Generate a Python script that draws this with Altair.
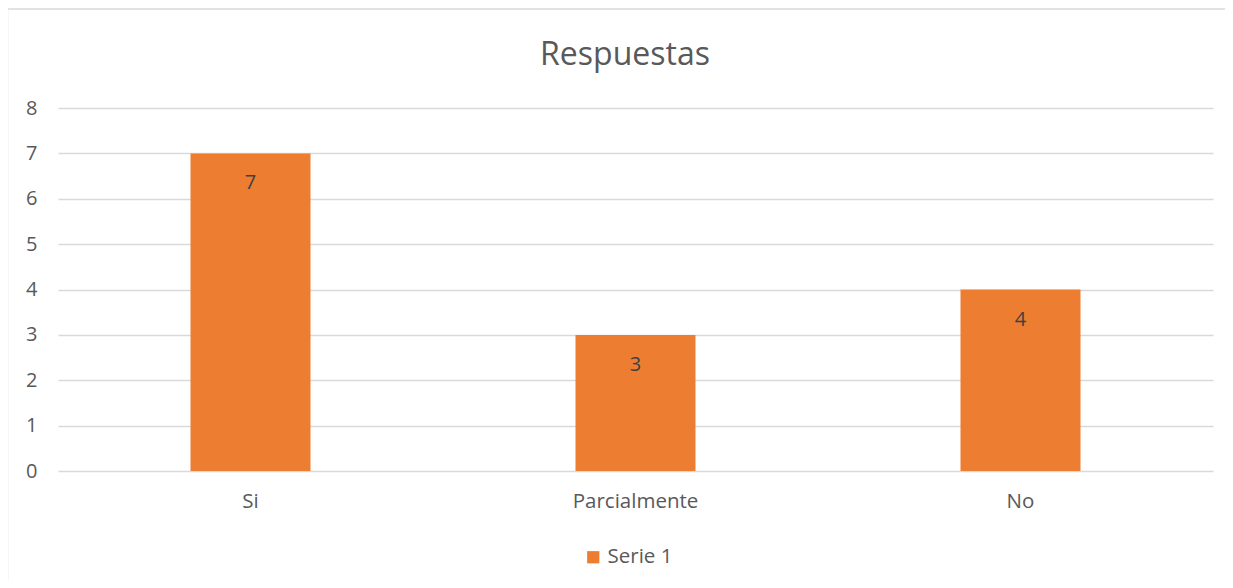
import altair as alt
import pandas as pd

categories = ["Si", "Parcialmente", "No"]
values = [7, 3, 4]
series = ["Serie 1"] * 3
chart_title = ["Respuestas"]

df = pd.DataFrame({"cat": categories, "val": values, "serie": series})

FONT = "Open Sans"
ORANGE = "#ED7D31"
TXT = "#595959"

W, H = 1155, 363

base = alt.Chart(df)

x_enc = alt.X("cat:N", sort=categories, title=None,
              scale=alt.Scale(paddingInner=0, paddingOuter=0),
              axis=alt.Axis(labelAngle=0, ticks=False, domain=False, grid=False,
                            labelFont=FONT, labelFontSize=20.5, labelColor=TXT,
                            labelPadding=20))
y_enc = alt.Y("val:Q", title=None,
              scale=alt.Scale(domain=[0, 8], nice=False),
              axis=alt.Axis(values=list(range(0, 9)), ticks=False, domain=False,
                            grid=True, gridColor="#D9D9D9", gridWidth=1.5,
                            labelFont=FONT, labelFontSize=20, labelColor=TXT,
                            labelPadding=21))

bars = base.mark_bar(size=120).encode(
    x=x_enc,
    y=y_enc,
    color=alt.Color("serie:N", scale=alt.Scale(range=[ORANGE]), title=None,
                    legend=alt.Legend(orient="none", legendX=525, legendY=439,
                                      symbolType="square", symbolSize=150,
                                      symbolStrokeWidth=0, symbolOpacity=1,
                                      labelFont=FONT, labelFontSize=20.5,
                                      labelColor=TXT, padding=0)),
)

labels = base.mark_text(font=FONT, fontSize=20, color="#404040",
                        baseline="middle", dy=30).encode(
    x=alt.X("cat:N", sort=categories),
    y=alt.Y("val:Q"),
    text=alt.Text("val:Q"),
)

title = alt.Chart(pd.DataFrame({"t": chart_title})).mark_text(
    font=FONT, fontSize=32, color=TXT, baseline="middle", align="center"
).encode(
    x=alt.value(567), y=alt.value(-53), text="t:N"
)

border = alt.Chart(pd.DataFrame({"a": [0]})).mark_rect(
    fill=None, stroke="#D9D9D9", strokeWidth=1.5
).encode(
    x=alt.value(-50.5), x2=alt.value(W + 200),
    y=alt.value(-99), y2=alt.value(H + 300),
)

chart = alt.layer(border, bars, labels, title).properties(
    width=W, height=H,
    autosize=alt.AutoSizeParams(type="none"),
    padding={"left": 50, "top": 100, "right": 12, "bottom": 109},
).configure(background="white").configure_view(stroke=None)

chart.save("out.html", embed_options={"renderer": "svg", "actions": False})
